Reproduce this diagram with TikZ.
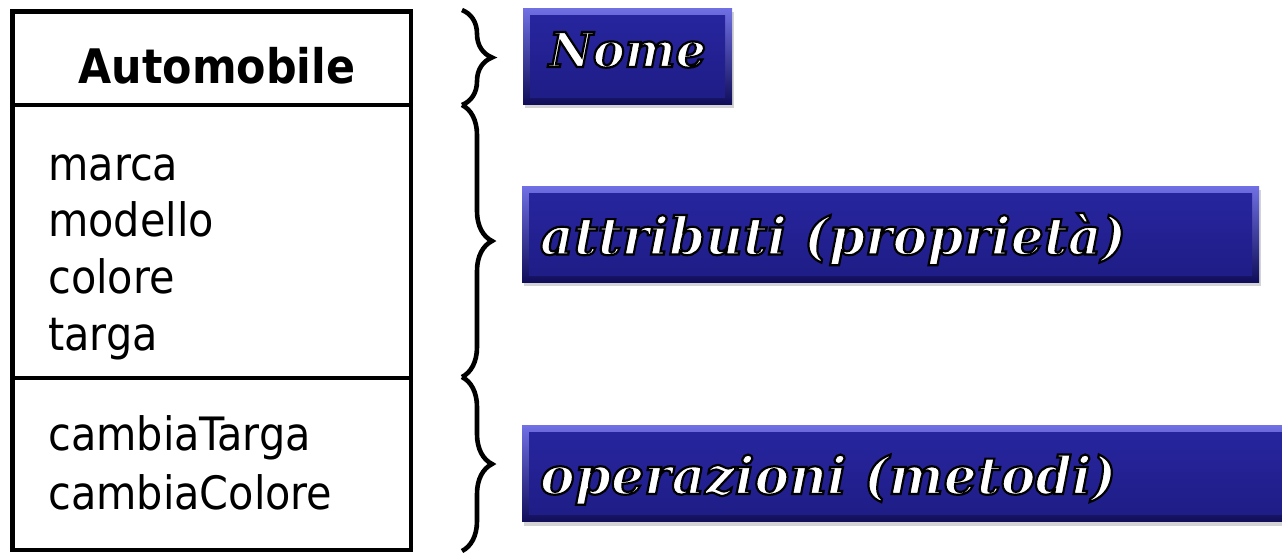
\documentclass[tikz,border=0pt]{standalone}
\usepackage{fontspec}
\usetikzlibrary{positioning,decorations.pathreplacing,shadows}
\newfontfamily\umlfont{DejaVu Sans Condensed}
\newfontfamily\tagfont{DejaVu Serif}
\definecolor{tagtop}{RGB}{40,38,160}
\definecolor{tagbottom}{RGB}{30,28,132}
\definecolor{taglight}{RGB}{112,112,228}
\definecolor{tagdark}{RGB}{16,14,90}
% white letters stroked in black
\newcommand{\outlined}[1]{\special{pdf:literal direct 0 0 0 RG 1.1 w 2 Tr}#1\special{pdf:literal direct 0 Tr}}

\begin{document}
\begin{tikzpicture}[x=0.5pt,y=-0.5pt,
		compartment/.style={
			draw,
			line width=2.3pt,
			outer sep=0pt,
			minimum width=199.25pt,
			inner sep=0pt
		},
		member/.style={anchor=base west,inner sep=0pt,font=\umlfont\fontsize{23}{27}\selectfont},
		classname/.style={anchor=base,inner sep=0pt,font=\umlfont\bfseries\fontsize{23.8}{27}\selectfont},
		brace/.style={decorate,decoration={brace,amplitude=15pt},line width=2.3pt},
		tag/.style={
			top color=taglight,
			bottom color=tagdark,
			minimum height=48pt,
			inner xsep=9pt,
			inner ysep=0pt,
			text=white,
			text height=30pt,
			text depth=9.5pt,
			font=\tagfont\bfseries\itshape\fontsize{26}{30}\selectfont,
			drop shadow={opacity=0.35,shadow xshift=1pt,shadow yshift=-2pt},
			path picture={
				\shade[top color=tagtop,bottom color=tagbottom]
					([shift={(3.5pt,-3.5pt)}]path picture bounding box.north west)
					rectangle ([shift={(-3.5pt,3.5pt)}]path picture bounding box.south east);
			}
		}
		]
		\useasboundingbox (0,0) rectangle (1282,554);
		% class box: name, attributes, operations
		\node[compartment,minimum height=46.75pt,anchor=north west] (head) at (12.5,11.5) {};
		\node[compartment,minimum height=136.5pt,below=0pt of head] (attrs) {};
		\node[compartment,minimum height=86pt,below=0pt of attrs] (ops) {};
		\node[classname] (name) at (217,83) {Automobile};
		%Attributes
		\foreach \m [count=\i] in {marca,modello,colore,targa}
			\node[member] (attr-\i) at (48,{180+56.7*(\i-1)}) {\m};
		%Operations
		\foreach \m [count=\i] in {cambiaTarga,cambiaColore}
			\node[member] (op-\i) at (48,{450.5+58.5*(\i-1)}) {\m};
		% braces
		\coordinate (b0) at (462,10);
		\coordinate (b1) at (462,105);
		\coordinate (b2) at (462,377);
		\coordinate (b3) at (462,551);
		\draw[brace] (b0) -- (b1);
		\draw[brace] (b1) -- (b2);
		\draw[brace] (b2) -- (b3);
		% blue labels
		\node[tag,minimum width=104.5pt,text height=25pt,text depth=14pt,
			font=\tagfont\bfseries\itshape\fontsize{24}{28}\selectfont] (nome) at (627.5,56) {\outlined{Nome}};
		\node[tag,text width=350.5pt,align=left] (attrib) at (890.5,234) {\outlined{attributi (proprietà)}};
		\node[tag,text width=371pt,align=left] (metodi) at (911,473.5) {\outlined{operazioni (metodi)}};
\end{tikzpicture}
\end{document}
